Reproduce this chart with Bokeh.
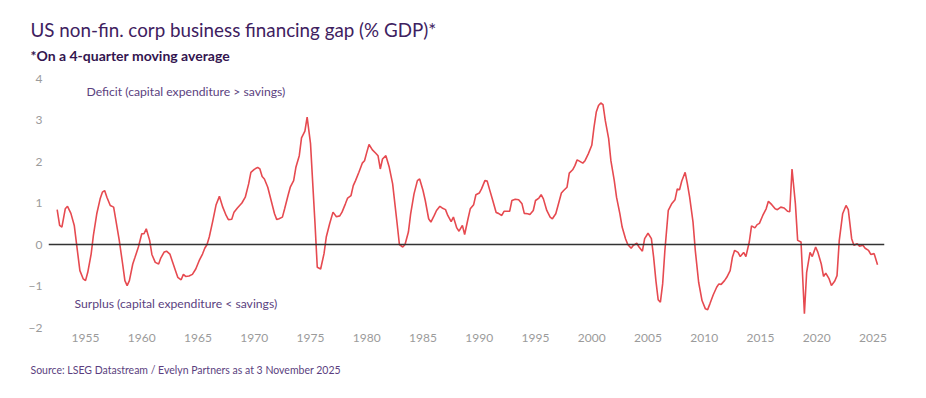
from bokeh.plotting import figure
from bokeh.models import Label, Span, FixedTicker, Range1d, Title
from bokeh.embed import file_html
from bokeh.resources import INLINE

# Financing gap, % of GDP (4-quarter moving average)
years = [
    1952.48, 1952.70, 1952.90, 1953.20, 1953.40, 1953.70, 1954.00, 1954.20, 1954.50, 1954.80,
    1955.00, 1955.20, 1955.50, 1955.70, 1956.00, 1956.30, 1956.50, 1956.70, 1956.90, 1957.20,
    1957.50, 1957.70, 1958.00, 1958.30, 1958.50, 1958.70, 1958.90, 1959.20, 1959.40, 1959.70,
    1960.00, 1960.20, 1960.40, 1960.70, 1960.90, 1961.20, 1961.50, 1961.70, 1962.00, 1962.20,
    1962.50, 1962.70, 1963.00, 1963.20, 1963.50, 1963.70, 1963.90, 1964.20, 1964.50, 1964.80,
    1965.10, 1965.40, 1965.60, 1965.80, 1966.00, 1966.30, 1966.60, 1966.90, 1967.20, 1967.50,
    1967.70, 1968.00, 1968.20, 1968.50, 1968.90, 1969.20, 1969.50, 1969.70, 1970.00, 1970.30,
    1970.50, 1970.70, 1970.90, 1971.20, 1971.50, 1971.80, 1972.00, 1972.20, 1972.50, 1972.70,
    1973.00, 1973.20, 1973.50, 1973.70, 1974.00, 1974.20, 1974.50, 1974.70, 1975.00, 1975.20,
    1975.40, 1975.60, 1975.90, 1976.20, 1976.40, 1976.70, 1977.00, 1977.30, 1977.60, 1977.80,
    1978.10, 1978.30, 1978.60, 1978.80, 1979.00, 1979.30, 1979.60, 1979.80, 1980.00, 1980.20,
    1980.50, 1980.80, 1981.00, 1981.20, 1981.40, 1981.70, 1982.00, 1982.30, 1982.50, 1982.70,
    1982.90, 1983.20, 1983.40, 1983.70, 1983.90, 1984.20, 1984.50, 1984.70, 1985.00, 1985.20,
    1985.50, 1985.70, 1986.00, 1986.20, 1986.50, 1986.70, 1987.00, 1987.20, 1987.50, 1987.70,
    1988.00, 1988.20, 1988.50, 1988.70, 1989.00, 1989.20, 1989.50, 1989.70, 1990.00, 1990.20,
    1990.50, 1990.70, 1990.90, 1991.20, 1991.50, 1991.70, 1992.00, 1992.20, 1992.50, 1992.70,
    1992.90, 1993.20, 1993.50, 1993.80, 1994.00, 1994.30, 1994.50, 1994.80, 1995.00, 1995.30,
    1995.50, 1995.70, 1996.00, 1996.30, 1996.50, 1996.80, 1997.00, 1997.30, 1997.50, 1997.80,
    1998.00, 1998.30, 1998.50, 1998.70, 1998.90, 1999.20, 1999.40, 1999.70, 2000.00, 2000.20,
    2000.40, 2000.60, 2000.80, 2001.00, 2001.20, 2001.50, 2001.70, 2002.00, 2002.20, 2002.50,
    2002.70, 2003.00, 2003.20, 2003.50, 2003.70, 2004.00, 2004.20, 2004.50, 2004.70, 2005.00,
    2005.30, 2005.50, 2005.70, 2005.90, 2006.10, 2006.30, 2006.50, 2006.80, 2007.10, 2007.40,
    2007.60, 2007.80, 2008.00, 2008.30, 2008.50, 2008.70, 2009.00, 2009.20, 2009.50, 2009.80,
    2010.10, 2010.30, 2010.50, 2010.80, 2011.10, 2011.30, 2011.50, 2011.80, 2012.00, 2012.30,
    2012.50, 2012.70, 2013.00, 2013.20, 2013.50, 2013.70, 2014.00, 2014.20, 2014.50, 2014.70,
    2014.90, 2015.20, 2015.50, 2015.70, 2016.00, 2016.30, 2016.50, 2016.80, 2017.10, 2017.40,
    2017.60, 2017.80, 2018.10, 2018.30, 2018.60, 2018.90, 2019.10, 2019.40, 2019.60, 2019.90,
    2020.10, 2020.40, 2020.60, 2020.80, 2021.10, 2021.30, 2021.60, 2021.80, 2022.00, 2022.30,
    2022.60, 2022.80, 2023.10, 2023.30, 2023.60, 2023.80, 2024.10, 2024.30, 2024.60, 2024.80,
    2025.10, 2025.40,
]
gap = [
    0.84, 0.46, 0.42, 0.86, 0.92, 0.75, 0.46, 0.02, -0.63, -0.83,
    -0.87, -0.67, -0.23, 0.22, 0.74, 1.10, 1.26, 1.30, 1.14, 0.94,
    0.90, 0.58, 0.10, -0.47, -0.87, -0.99, -0.87, -0.47, -0.31, -0.06,
    0.26, 0.26, 0.38, 0.10, -0.24, -0.43, -0.47, -0.32, -0.18, -0.16,
    -0.23, -0.39, -0.63, -0.79, -0.85, -0.72, -0.77, -0.76, -0.72, -0.59,
    -0.39, -0.23, -0.09, 0.00, 0.18, 0.55, 0.95, 1.16, 0.90, 0.70,
    0.60, 0.61, 0.78, 0.88, 1.00, 1.14, 1.46, 1.74, 1.81, 1.86,
    1.82, 1.64, 1.58, 1.38, 1.06, 0.74, 0.60, 0.62, 0.66, 0.86,
    1.18, 1.38, 1.54, 1.86, 2.14, 2.57, 2.73, 3.07, 2.43, 1.46,
    0.50, -0.55, -0.59, -0.22, 0.18, 0.50, 0.78, 0.67, 0.69, 0.78,
    0.98, 1.12, 1.18, 1.42, 1.54, 1.74, 1.96, 2.02, 2.22, 2.41,
    2.28, 2.20, 2.14, 1.82, 2.06, 2.14, 1.86, 1.46, 0.98, 0.50,
    0.00, -0.06, 0.00, 0.30, 0.74, 1.22, 1.54, 1.58, 1.30, 1.06,
    0.62, 0.54, 0.70, 0.82, 0.92, 0.88, 0.84, 0.70, 0.55, 0.66,
    0.40, 0.32, 0.46, 0.24, 0.62, 0.86, 0.96, 1.20, 1.24, 1.34,
    1.54, 1.53, 1.34, 1.06, 0.77, 0.75, 0.70, 0.80, 0.80, 0.80,
    1.06, 1.09, 1.08, 0.98, 0.75, 0.74, 0.72, 0.82, 1.06, 1.12,
    1.20, 1.10, 0.82, 0.66, 0.62, 0.74, 0.94, 1.24, 1.30, 1.38,
    1.72, 1.80, 1.90, 2.04, 2.01, 1.96, 2.02, 2.19, 2.39, 2.83,
    3.19, 3.35, 3.41, 3.37, 2.99, 2.55, 2.02, 1.54, 1.14, 0.74,
    0.42, 0.14, 0.00, -0.09, -0.02, 0.03, -0.06, -0.16, 0.14, 0.27,
    0.14, -0.31, -0.87, -1.33, -1.39, -0.95, -0.14, 0.82, 0.98, 1.08,
    1.34, 1.32, 1.53, 1.74, 1.46, 1.14, 0.54, -0.14, -0.91, -1.35,
    -1.55, -1.57, -1.43, -1.21, -1.03, -0.95, -0.96, -0.87, -0.79, -0.63,
    -0.31, -0.14, -0.19, -0.29, -0.19, -0.29, 0.06, 0.45, 0.40, 0.48,
    0.51, 0.70, 0.86, 1.04, 0.96, 0.86, 0.84, 0.90, 0.88, 0.80,
    0.79, 1.82, 0.98, 0.10, 0.06, -1.67, -0.67, -0.19, -0.29, -0.06,
    -0.19, -0.47, -0.77, -0.69, -0.83, -0.99, -0.88, -0.75, 0.10, 0.74,
    0.94, 0.84, 0.14, -0.02, 0.02, -0.04, -0.02, -0.09, -0.14, -0.24,
    -0.22, -0.49,
]

x_ticks = [1955, 1960, 1965, 1970, 1975, 1980, 1985, 1990, 1995, 2000, 2005, 2010, 2015, 2020, 2025]
y_ticks = [-2, -1, 0, 1, 2, 3, 4]
y_tick_labels = ["\u22122", "\u22121", "0", "1", "2", "3", "4"]

title_text = "US non-fin. corp business financing gap (% GDP)*"
subtitle_text = "*On a 4-quarter moving average"
deficit_text = "Deficit (capital expenditure > savings)"
surplus_text = "Surplus (capital expenditure < savings)"
source_text = "Source: LSEG Datastream / Evelyn Partners as at 3 November 2025"

X0, X1 = 1951.71, 2026.02
Y0, Y1 = -2.0, 4.0
BL, BR, BT, BB = 48, 34, 78, 70
FW, FH = 836, 249
W, H = BL + FW + BR, BT + FH + BB


def dx(px):
    # canvas pixel -> data x
    return X0 + (px - BL) / FW * (X1 - X0)


def dy(py):
    # canvas pixel -> data y
    return Y1 - (py - BT) / FH * (Y1 - Y0)


p = figure(width=W, height=H, output_backend="svg", toolbar_location=None, title=None,
           x_range=Range1d(X0, X1), y_range=Range1d(Y0, Y1),
           min_border_left=BL, min_border_right=BR, min_border_top=BT, min_border_bottom=BB)
p.outline_line_color = None
p.background_fill_color = "white"
p.border_fill_color = "white"
p.xgrid.visible = False
p.ygrid.visible = False

FONT = "Lato"
for ax in (p.xaxis[0], p.yaxis[0]):
    ax.axis_line_color = None
    ax.major_tick_line_color = None
    ax.minor_tick_line_color = None
    ax.major_label_text_color = "#9b9b9b"
    ax.major_label_text_font = FONT
    ax.major_label_text_font_size = "12px"
p.xaxis.ticker = FixedTicker(ticks=x_ticks)
p.yaxis.ticker = FixedTicker(ticks=y_ticks)
p.yaxis.major_label_overrides = {t: l for t, l in zip(y_ticks, y_tick_labels)}
p.xaxis.major_label_standoff = 0
p.yaxis.major_label_standoff = 0

p.add_layout(Span(location=0, dimension="width", line_color="#333333", line_width=1.6))
p.line(years, gap, line_color="#e64a50", line_width=1.6)

purple_dark = "#3e2160"
purple = "#5b3f80"

# titles: first added sits nearest the frame (a blank spacer first)
p.add_layout(Title(text=" ", text_font=FONT, text_font_size="1px", align="left", standoff=11), "above")
p.add_layout(Title(text=subtitle_text, text_font=FONT, text_font_size="14px", text_font_style="bold",
                   text_color="#33154f", align="left", offset=-18, standoff=2), "above")
p.add_layout(Title(text=title_text, text_font=FONT, text_font_size="18.8px", text_font_style="normal",
                   text_color=purple_dark, align="left", offset=-18, standoff=5), "above")
p.add_layout(Title(text=source_text, text_font=FONT, text_font_size="10.5px", text_font_style="normal",
                   text_color=purple, align="left", offset=-18, standoff=35), "below")

p.add_layout(Label(x=dx(86), y=dy(91), text=deficit_text, text_font=FONT, text_font_size="12.2px",
                   text_color=purple, text_baseline="alphabetic"))
p.add_layout(Label(x=dx(74), y=dy(302.5), text=surplus_text, text_font=FONT, text_font_size="12.2px",
                   text_color=purple, text_baseline="alphabetic"))

open("out.html", "w").write(file_html(p, INLINE))
